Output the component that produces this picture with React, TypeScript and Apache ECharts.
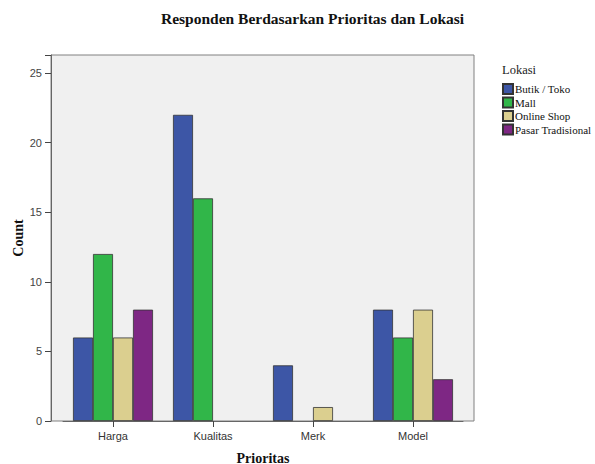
import React, { useEffect, useRef } from "react";
import * as echarts from "echarts";

const categories = ["Harga", "Kualitas", "Merk", "Model"];
const seriesNames = ["Butik / Toko", "Mall", "Online Shop", "Pasar Tradisional"];
const butik = [6, 22, 4, 8];
const mall = [12, 16, 0, 6];
const online = [6, 0, 1, 8];
const pasar = [8, 0, 0, 3];
const colors = ["#3d56a6", "#31b649", "#dbcf8f", "#7e2784"];
const yTicks = [0, 5, 10, 15, 20, 25];

export default function App() {
  const ref = useRef<HTMLDivElement>(null);
  useEffect(() => {
    if (!ref.current) return;
    const chart = echarts.init(ref.current, undefined, { renderer: "svg" });
    const values = [butik, mall, online, pasar];
    const serif = "Liberation Serif";
    const sans = "Liberation Sans";
    chart.setOption({
      animation: false,
      backgroundColor: "#ffffff",
      title: {
        text: "Responden Berdasarkan Prioritas dan Lokasi",
        left: 156,
        top: 5,
        textStyle: { fontFamily: serif, fontWeight: "bold", fontSize: 15.5, color: "#111" },
      },
      grid: [
        { left: 51, top: 55, width: 423, height: 366, show: true, backgroundColor: "#f0f0f0", borderColor: "#808080", borderWidth: 1, outerBoundsMode: "none", containLabel: false },
        { left: 63, top: 55, width: 400, height: 366, outerBoundsMode: "none", containLabel: false },
      ],
      xAxis: [
        { type: "value", gridIndex: 0, min: 0, max: 1, show: false },
        {
          type: "category",
          gridIndex: 1,
          data: categories,
          axisLine: { show: true, lineStyle: { color: "#666", width: 1 } },
          axisTick: { show: true, alignWithLabel: true, length: 6, lineStyle: { color: "#444" } },
          axisLabel: { fontFamily: sans, fontSize: 11, color: "#333", margin: 9 },
          name: "Prioritas",
          nameLocation: "middle",
          nameGap: 30,
          nameMoveOverlap: false,
          nameTextStyle: { fontFamily: serif, fontWeight: "bold", fontSize: 14, color: "#111" },
        },
      ],
      yAxis: [
        {
          type: "value",
          gridIndex: 0,
          min: 0,
          max: 26.3,
          interval: 5,
          axisLine: { show: true, lineStyle: { color: "#666", width: 1 } },
          axisTick: { show: true, length: 6, lineStyle: { color: "#444" } },
          splitLine: { show: false },
          axisLabel: {
            fontFamily: sans,
            fontSize: 11,
            color: "#444",
            margin: 9,
            formatter: (v: number) => (yTicks.includes(v) ? String(v) : ""),
          },
          name: "Count",
          nameLocation: "middle",
          nameGap: 26,
          nameMoveOverlap: false,
          nameRotate: 90,
          nameTextStyle: { fontFamily: serif, fontWeight: "bold", fontSize: 14, color: "#111" },
        },
        { type: "value", gridIndex: 1, min: 0, max: 26.3, show: false },
      ],
      legend: {
        data: seriesNames,
        orient: "vertical",
        left: 497,
        top: 78,
        icon: "rect",
        itemWidth: 10,
        itemHeight: 10,
        itemGap: 1.5,
        textStyle: { fontFamily: serif, fontSize: 11, lineHeight: 10, color: "#111", padding: [0, 0, 0, -3] },
      },
      graphic: [
        {
          type: "text",
          left: 502,
          top: 63,
          style: { text: "Lokasi", fontFamily: serif, fontSize: 12.5, fill: "#222" },
        },
      ],
      series: seriesNames.map((name, i) => ({
        name,
        type: "bar",
        xAxisIndex: 1,
        yAxisIndex: 1,
        data: values[i].map((v) => (v === 0 ? { value: v, itemStyle: { borderWidth: 0 } } : v)),
        barWidth: 20,
        barGap: "0%",
        itemStyle: { color: colors[i], borderColor: "#333", borderWidth: 0.8 },
      })),
    });
    return () => chart.dispose();
  }, []);
  return <div ref={ref} style={{ position: "fixed", left: 0, top: 0, width: 595, height: 464 }} />;
}
